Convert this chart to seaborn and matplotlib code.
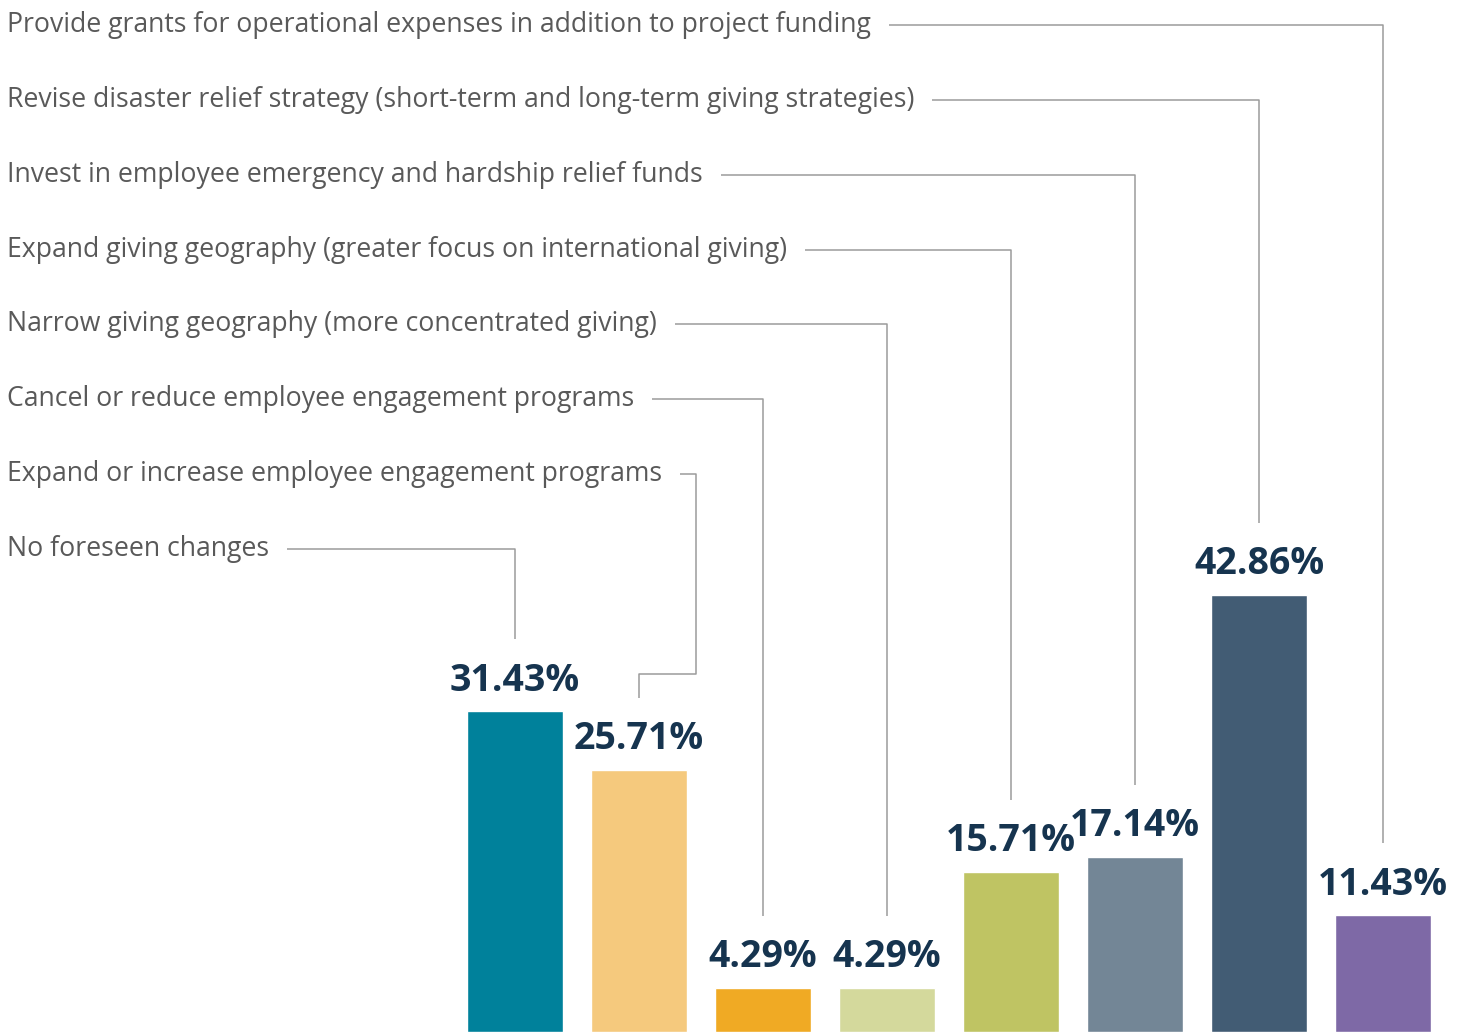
import matplotlib
matplotlib.use("Agg")
import matplotlib.pyplot as plt
import seaborn as sns
import numpy as np

# dados (ordem das barras, da esquerda para a direita)
categorias = [
    "No foreseen changes",
    "Expand or increase employee engagement programs",
    "Cancel or reduce employee engagement programs",
    "Narrow giving geography (more concentrated giving)",
    "Expand giving geography (greater focus on international giving)",
    "Invest in employee emergency and hardship relief funds",
    "Revise disaster relief strategy (short-term and long-term giving strategies)",
    "Provide grants for operational expenses in addition to project funding",
]
valores = [31.43, 25.71, 4.29, 4.29, 15.71, 17.14, 42.86, 11.43]
cores = ["#00819b", "#f5c97d", "#f0aa24", "#d4d99c", "#bfc463",
         "#738696", "#425c74", "#7e69a6"]

sns.set_theme(style="white")
plt.rcParams["font.family"] = ["Open Sans", "DejaVu Sans"]

W, H = 1465, 1032
fig = plt.figure(figsize=(W / 100, H / 100), dpi=100)
ax = fig.add_axes([0, 0, 1, 1])

sns.barplot(x=categorias, y=valores, hue=categorias, palette=cores,
            legend=False, width=0.774, saturation=1, ax=ax)

# escala: centro da barra 0 em 515 px, passo de 124 px
ax.set_xlim(-515 / 124, (W - 515) / 124)
ax.set_ylim(0, H / 10.2)
ax.axis("off")

# rótulos de valor
txt_val = "#16344f"
for i, v in enumerate(valores):
    ax.annotate(f"{v:.2f}%", (i, v), xytext=(0, 15), textcoords="offset points",
                ha="center", va="baseline", fontsize=27, fontweight="bold",
                color=txt_val)

# rótulos das categorias à esquerda
textos = []
for i, cat in enumerate(categorias):
    y_px = 549 - 74.86 * i
    t = ax.text(7 / W, 1 - y_px / H, cat, transform=ax.transAxes,
                ha="left", va="center", fontsize=19.2, color="#595959")
    textos.append(t)

fig.canvas.draw()
r = fig.canvas.get_renderer()
inv = ax.transData.inverted()
px = lambda x, y: inv.transform((x, H - y))
line_kw = dict(color="#9b9b9b", lw=1.1, solid_capstyle="butt")

for i, (t, v) in enumerate(zip(textos, valores)):
    bb = t.get_window_extent(r)
    x0 = bb.x1 + 18
    y_line = H - (bb.y0 + bb.y1) / 2
    bar_x = ax.transData.transform((i, 0))[0]
    bar_top = H - ax.transData.transform((i, v))[1]
    y_end = bar_top - 72
    if x0 + 16 > bar_x:
        knee = x0 + 16
        y_jog = y_end - 24
        pts = [(x0, y_line), (knee, y_line), (knee, y_jog), (bar_x, y_jog), (bar_x, y_end)]
    else:
        pts = [(x0, y_line), (bar_x, y_line), (bar_x, y_end)]
    d = np.array([px(*p) for p in pts])
    ax.plot(d[:, 0], d[:, 1], **line_kw)

fig.savefig("out.png", dpi=100)
